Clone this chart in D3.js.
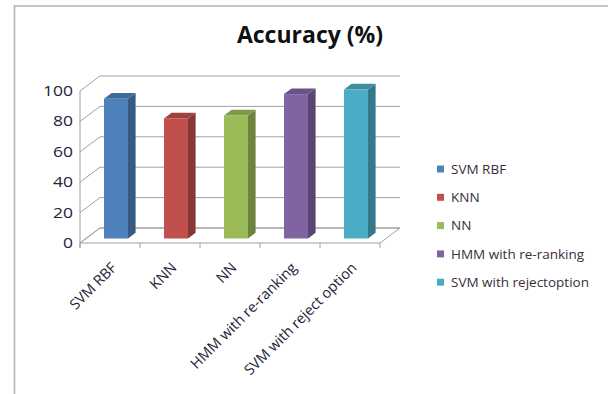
<!DOCTYPE html>
<html>
<head>
<meta charset="utf-8">
<script src="https://cdn.jsdelivr.net/npm/d3@7"></script>
<style>
  html, body { margin: 0; padding: 0; background: #fff; }
  svg { display: block; }
</style>
</head>
<body>
<svg id="chart" width="608" height="394"></svg>
<script>
// Accuracy (%) per classifier
const categories = ["SVM RBF", "KNN", "NN", "HMM with re-ranking", "SVM with reject option"];
const legendLabels = ["SVM RBF", "KNN", "NN", "HMM with re-ranking", "SVM with rejectoption"];
const accuracy = [92, 79, 81, 95, 98];
const yTicks = [0, 20, 40, 60, 80, 100];
const barColors = ["#4F81BD", "#C0504D", "#9BBB59", "#8064A2", "#4BACC6"];

const svg = d3.select("#chart");
const W = 608, H = 394;
const font = "'Open Sans', sans-serif";

// plot frame (front plane) and 3-D depth vector of the walls
const x0 = 80, x1 = 380, yBottom = 243, yTop = 91;
const depth = { dx: 20, dy: -15 };
const off = f => [depth.dx * f, depth.dy * f];

const x = d3.scaleBand().domain(categories).range([x0, x1]);
const y = d3.scaleLinear().domain([0, 100]).range([yBottom, yTop]);

const gridColor = "#a0a0a0";
const textColor = "#23233a";

// outer chart border (left and top edges)
svg.append("path")
  .attr("d", `M14.5,${H} L14.5,6 L${W},6`)
  .attr("fill", "none").attr("stroke", "#b4b4b4").attr("stroke-width", 1.6);

// title
svg.append("text")
  .attr("x", 310).attr("y", 43)
  .attr("text-anchor", "middle")
  .attr("font-family", font)
  .attr("font-weight", "bold")
  .attr("font-size", 23)
  .attr("fill", "#111")
  .text("Accuracy (%)");

const g = svg.append("g");
const [bdx, bdy] = off(1);

// floor
g.append("path")
  .attr("d", `M${x0},${yBottom} L${x1},${yBottom} L${x1 + bdx},${yBottom + bdy} L${x0 + bdx},${yBottom + bdy} Z`)
  .attr("fill", "#fff").attr("stroke", gridColor).attr("stroke-width", 1);

// gridlines: side wall diagonals + back wall horizontals
yTicks.forEach(t => {
  const yy = y(t);
  g.append("path")
    .attr("d", `M${x0},${yy} L${x0 + bdx},${yy + bdy} L${x1 + bdx},${yy + bdy}`)
    .attr("fill", "none").attr("stroke", gridColor).attr("stroke-width", 1);
});

// front value axis line
g.append("line")
  .attr("x1", x0).attr("x2", x0).attr("y1", y(100)).attr("y2", yBottom + 5)
  .attr("stroke", gridColor).attr("stroke-width", 1);

// category tick marks
const tickXs = categories.map(c => x(c)).concat([x1]);
tickXs.forEach(tx => {
  g.append("line")
    .attr("x1", tx).attr("x2", tx).attr("y1", yBottom).attr("y2", yBottom + 5)
    .attr("stroke", gridColor).attr("stroke-width", 1);
});

// value axis labels (slightly widened glyphs)
yTicks.forEach(t => {
  svg.append("text")
    .attr("transform", `translate(73,${y(t)}) scale(1.25,1)`)
    .attr("dy", "0.36em")
    .attr("text-anchor", "end")
    .attr("font-family", font)
    .attr("font-size", 14)
    .attr("fill", textColor)
    .text(t);
});

// bars as boxes: front face, side face, top face
const fFront = 0.3, fBack = 0.68;
const barW = 24;
const bars = g.selectAll("g.bar").data(categories).join("g").attr("class", "bar");
bars.each(function (c, i) {
  const sel = d3.select(this);
  const [fx, fy] = off(fFront);
  const [sx, sy] = off(fBack - fFront);
  const left = x(c) + (x.bandwidth() - barW) / 2 + fx;
  const right = left + barW;
  const top = y(accuracy[i]) + fy;
  const bottom = y(0) + fy;
  const base = d3.color(barColors[i]);
  // side
  sel.append("path")
    .attr("d", `M${right},${bottom} L${right + sx},${bottom + sy} L${right + sx},${top + sy} L${right},${top} Z`)
    .attr("fill", base.darker(1.0));
  // top
  sel.append("path")
    .attr("d", `M${left},${top} L${right},${top} L${right + sx},${top + sy} L${left + sx},${top + sy} Z`)
    .attr("fill", base.darker(0.55));
  // front
  sel.append("rect")
    .attr("x", left).attr("y", top)
    .attr("width", barW).attr("height", bottom - top)
    .attr("fill", base);
});

// rotated category labels
categories.forEach(c => {
  const cx = x(c) + x.bandwidth() / 2 + 4;
  svg.append("text")
    .attr("transform", `translate(${cx},${yBottom + 22}) rotate(-45)`)
    .attr("text-anchor", "end")
    .attr("dy", "0.35em")
    .attr("font-family", font)
    .attr("font-size", 14.5)
    .attr("fill", textColor)
    .text(c);
});

// legend
const legend = svg.append("g").attr("transform", "translate(437,169)");
legendLabels.forEach((lab, i) => {
  const row = legend.append("g").attr("transform", `translate(0,${i * 28.3})`);
  row.append("rect").attr("x", 0).attr("y", -3.5).attr("width", 7).attr("height", 7)
    .attr("fill", barColors[i]);
  row.append("text")
    .attr("x", 14).attr("y", 0).attr("dy", "0.36em")
    .attr("font-family", font)
    .attr("font-size", 13.5)
    .attr("fill", "#3a2d3c")
    .text(lab);
});
</script>
</body>
</html>
